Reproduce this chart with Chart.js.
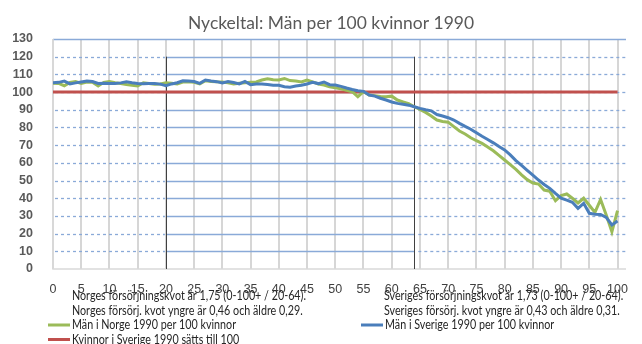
<!DOCTYPE html>
<html>
<head>
<meta charset="utf-8">
<script src="https://cdn.jsdelivr.net/npm/chart.js@4"></script>
<style>
  html, body { margin: 0; padding: 0; background: #fff; }
  #wrap { width: 642px; height: 344px; }
</style>
</head>
<body>
<div id="wrap"><canvas id="myChart" width="642" height="344"></canvas></div>
<script>
const ctx = document.getElementById('myChart').getContext('2d');

const titleText = 'Nyckeltal: Män per 100 kvinnor 1990';
const ages = [0,1,2,3,4,5,6,7,8,9,10,11,12,13,14,15,16,17,18,19,20,21,22,23,24,25,26,27,28,29,30,31,32,33,34,35,36,37,38,39,40,41,42,43,44,45,46,47,48,49,50,51,52,53,54,55,56,57,58,59,60,61,62,63,64,65,66,67,68,69,70,71,72,73,74,75,76,77,78,79,80,81,82,83,84,85,86,87,88,89,90,91,92,93,94,95,96,97,98,99,100];
const norge = [105,104.9,103.6,105.5,106,104.9,105.7,105.5,103.4,105.5,106,105.3,104.9,104.3,103.8,103.4,105.3,104.8,104.4,104.6,
  105.3,105,104.6,105.7,105.8,105.5,104.6,106.4,106,105.8,105.7,105.2,104.6,105,105.3,105.5,105.7,106.8,107.5,107,
  106.8,107.7,106.5,106.2,105.7,106.8,105.8,104.6,104,103,102.4,101.8,101,100.2,97.4,100.2,98.3,98,97.5,97.4,
  97.7,95.5,94.5,93.5,91.7,90.2,88.5,86.5,84.2,83.4,83,80.5,78,76.3,74.2,72.5,71,69,66.8,64.2,
  61.6,59,56.3,53.2,50.5,48.6,48,44.6,44,38.6,41.5,42.4,40,37.3,40,36,32,39.3,30.5,21,33];
const sverige = [105.3,105.5,106.2,104.6,105.2,105.7,106.2,106,104.9,105,104.9,104.8,105.2,105.8,105.3,104.9,104.7,104.9,104.9,104.5,
  103.6,104.6,105.3,106.4,106.2,106,104.9,106.8,106.3,105.9,105.2,106,105.4,104.6,106,104.2,104.5,104.6,104.3,103.9,
  103.8,103,102.7,103.4,103.9,104.6,105.5,104.8,105.7,104.2,104,103.2,102.3,101.5,100.8,100.4,98.3,97.7,96.5,95.5,
  94.4,93.6,93.1,92.6,91.7,90.8,90,89.4,87.3,86.5,85.5,84.2,82.3,80.6,79,77,75,73.2,71.3,69.2,
  67.3,64.5,61.3,58.6,55.8,53.1,50.3,47.8,45.6,42.7,40,38.9,37.7,34.3,37.1,31.5,31,30.8,29.2,24.9,27.1];
const kvinnorNiva = 100;
const seriesLabels = ['Män i Norge 1990 per 100 kvinnor', 'Män i Sverige 1990 per 100 kvinnor', 'Kvinnor i Sverige 1990 sätts till 100'];
const notesLeft = ['Norges försörjningskvot är 1,75 (0-100+ / 20-64).', 'Norges försörj. kvot yngre är 0,46 och äldre 0,29.'];
const notesRight = ['Sveriges försörjningskvot är 1,73 (0-100+ / 20-64).', 'Sveriges försörj. kvot yngre är 0,43 och äldre 0,31.'];
const xTicks = [0,5,10,15,20,25,30,35,40,45,50,55,60,65,70,75,80,85,90,95,100];
const yTicks = [0,10,20,30,40,50,60,70,80,90,100,110,120,130];
const workingAges = [20, 64];

const sans = '"Liberation Sans", Arial, sans-serif';
const textFont = 'Lato, "Open Sans", sans-serif';
Chart.defaults.font.family = sans;

const toPoints = (vals) => vals.map((v, i) => ({ x: ages[i], y: v }));

// text squeezed sideways so the long notes fit their columns
function narrowText(c, s, x, y, k) {
  c.save();
  c.translate(x, y);
  c.scale(k, 1);
  c.fillText(s, 0, 0);
  c.restore();
}

// grid: gray verticals every 5 years; horizontals dashed outside the 20-64 band, solid inside
const gridPlugin = {
  id: 'bandGrid',
  beforeDatasetsDraw(chart) {
    const { ctx, scales: { x, y } } = chart;
    const left = x.getPixelForValue(0);
    const right = x.getPixelForValue(x.max);
    const top = Math.round(y.getPixelForValue(yTicks[yTicks.length - 1]));
    const bottom = Math.round(y.getPixelForValue(0));
    const x1 = x.getPixelForValue(workingAges[0]);
    const x2 = x.getPixelForValue(workingAges[1]);
    ctx.save();
    ctx.beginPath();
    ctx.rect(left - 2, top - 2, right - left + 4, bottom - top + 3);
    ctx.clip();

    ctx.strokeStyle = '#d6d6d6';
    ctx.lineWidth = 2;
    xTicks.forEach(v => {
      const px = Math.round(x.getPixelForValue(v));
      ctx.beginPath(); ctx.moveTo(px, top); ctx.lineTo(px, bottom); ctx.stroke();
    });

    ctx.lineWidth = 1.3;
    ctx.strokeStyle = '#8aaad8';
    yTicks.forEach(t => {
      if (t === 0) return;
      const py = Math.round(y.getPixelForValue(t)) + 0.5;
      if (t === yTicks[yTicks.length - 1]) {
        ctx.setLineDash([]);
        ctx.beginPath(); ctx.moveTo(left, py); ctx.lineTo(right, py); ctx.stroke();
        return;
      }
      ctx.setLineDash([3, 3]);
      ctx.beginPath(); ctx.moveTo(left + 2, py); ctx.lineTo(x1 - 1, py); ctx.stroke();
      ctx.beginPath(); ctx.moveTo(x2 + 4, py); ctx.lineTo(right, py); ctx.stroke();
      ctx.setLineDash([]);
      ctx.beginPath(); ctx.moveTo(x1, py); ctx.lineTo(x2, py); ctx.stroke();
    });
    // axis lines
    ctx.strokeStyle = '#d9d9d9';
    ctx.lineWidth = 1.5;
    ctx.beginPath();
    ctx.moveTo(left, top); ctx.lineTo(left, bottom); ctx.lineTo(right, bottom);
    ctx.stroke();
    // band markers
    ctx.strokeStyle = '#404040';
    ctx.lineWidth = 1;
    const markTop = y.getPixelForValue(120);
    workingAges.forEach(v => {
      const px = Math.round(x.getPixelForValue(v)) + 0.5;
      ctx.beginPath(); ctx.moveTo(px, markTop); ctx.lineTo(px, bottom); ctx.stroke();
    });
    ctx.restore();
  },
  afterDraw(chart) {
    const { ctx, width } = chart;
    ctx.save();
    ctx.fillStyle = '#595959';
    ctx.font = '18px ' + textFont;
    ctx.textAlign = 'center';
    ctx.textBaseline = 'alphabetic';
    ctx.fillText(titleText, width / 2 + 10, 29, 286);

    ctx.fillStyle = '#262626';
    ctx.font = '12.5px ' + textFont;
    ctx.textAlign = 'left';
    ctx.textBaseline = 'middle';
    const k = Math.min(1, 234 / ctx.measureText(notesLeft[0]).width);
    notesLeft.forEach((s, i) => narrowText(ctx, s, 72, 296 + i * 14.5, k));
    notesRight.forEach((s, i) => narrowText(ctx, s, 384, 296 + i * 14.5, k));

    // legend rows
    const spots = [[48, 325], [361, 325], [48, 339.5]];
    chart.data.datasets.forEach((ds, i) => {
      const [lx, ly] = spots[i];
      ctx.strokeStyle = ds.borderColor;
      ctx.lineWidth = 3;
      ctx.beginPath(); ctx.moveTo(lx, ly); ctx.lineTo(lx + 22, ly); ctx.stroke();
      narrowText(ctx, ds.label, lx + 24, ly, k);
    });
    ctx.restore();
  }
};

const myChart = new Chart(ctx, {
  type: 'line',
  data: {
    datasets: [
      { label: seriesLabels[0], data: toPoints(norge), borderColor: '#9bbb59', borderWidth: 3, order: 1 },
      { label: seriesLabels[1], data: toPoints(sverige), borderColor: '#4a7ebb', borderWidth: 3, order: 0 },
      { label: seriesLabels[2], data: [{ x: ages[0], y: kvinnorNiva }, { x: ages[ages.length - 1], y: kvinnorNiva }], borderColor: '#c0504d', borderWidth: 3, order: 2 }
    ]
  },
  options: {
    responsive: false,
    animation: false,
    elements: { point: { radius: 0 }, line: { tension: 0 } },
    layout: { padding: { top: 39, right: 16, left: 0, bottom: 0 } },
    plugins: {
      legend: { display: false },
      title: { display: false },
      tooltip: { enabled: false }
    },
    scales: {
      x: {
        type: 'linear',
        min: 0,
        max: 101.5,
        afterBuildTicks: (scale) => {
          scale.ticks = xTicks.map(v => ({ value: v }));
        },
        afterFit: (scale) => { scale.height = 75; },
        ticks: { color: '#404040', font: { size: 12.5 }, padding: 5, maxRotation: 0, autoSkip: false },
        grid: { display: false },
        border: { display: false }
      },
      y: {
        min: 0,
        max: 130,
        afterBuildTicks: (scale) => {
          scale.ticks = yTicks.map(v => ({ value: v }));
        },
        afterFit: (scale) => { scale.width = 53; },
        ticks: { color: '#595959', font: { size: 12.5, weight: 'bold' }, padding: 12, autoSkip: false },
        grid: { display: false },
        border: { display: false }
      }
    }
  },
  plugins: [gridPlugin]
});
</script>
</body>
</html>
